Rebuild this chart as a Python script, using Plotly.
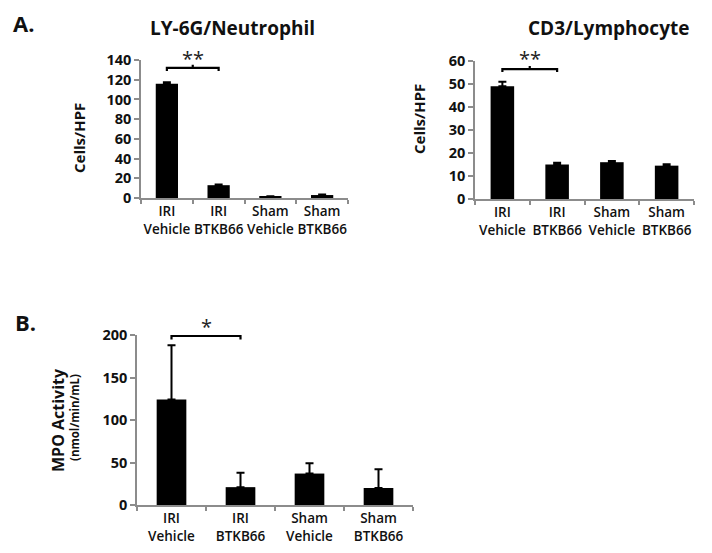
import plotly.graph_objects as go

categories = ["IRI<br>Vehicle", "IRI<br>BTKB66", "Sham<br>Vehicle", "Sham<br>BTKB66"]

neut_values = [116, 13, 1.5, 3]
neut_errors = [1.5, 0.8, 0.3, 0.6]

lymph_values = [49, 15, 16, 14.5]
lymph_errors = [2, 0.8, 0.5, 0.6]

mpo_values = [124, 21, 37, 20]
mpo_errors = [64, 17, 12, 22]

neut_bracket = {"y": 132, "star_y": 142, "label": "**"}
lymph_bracket = {"y": 56.5, "star_y": 61, "label": "**"}
mpo_bracket = {"y": 199, "star_y": 210, "label": "*"}

FONT = "Open Sans"
AXC = "#8c8c8c"
OFF = 8          # page body margin
W, H = 712 - OFF, 553 - OFF


def fx(px):
    return (px - OFF) / W


def fy(py):
    return 1 - (py - OFF) / H


fig = go.Figure()

panels = [
    ("x", "y", neut_values, neut_errors, neut_bracket, [0, 140]),
    ("x2", "y2", lymph_values, lymph_errors, lymph_bracket, [0, 60]),
    ("x3", "y3", mpo_values, mpo_errors, mpo_bracket, [0, 200]),
]

xpos = list(range(len(categories)))

for xa, ya, vals, errs, br, rng in panels:
    fig.add_trace(go.Bar(
        x=xpos, y=vals, xaxis=xa, yaxis=ya, width=0.43,
        marker=dict(color="black", line=dict(width=0)),
        error_y=dict(type="data", symmetric=False, array=errs,
                     arrayminus=[0] * len(errs), color="black",
                     thickness=2, width=4),
        showlegend=False, hoverinfo="skip",
    ))
    bh = (rng[1] - rng[0]) * 0.022
    fig.add_trace(go.Scatter(
        x=[0, 0, 0.5, 0.5, 0.5, 1, 1],
        y=[br["y"] - bh, br["y"], br["y"], br["y"] + bh, br["y"], br["y"], br["y"] - bh],
        mode="lines", line=dict(color="black", width=2.2),
        xaxis=xa, yaxis=ya, showlegend=False, hoverinfo="skip",
        cliponaxis=False,
    ))
    fig.add_annotation(
        x=0.5, y=br["star_y"] / rng[1], xref=xa, yref=ya + " domain",
        text=br["label"], showarrow=False, yanchor="middle",
        font=dict(family=FONT, size=20, color="#222"),
    )


def xaxis(domain, anchor):
    return dict(domain=domain, anchor=anchor, range=[-0.5, 3.5],
                tickvals=xpos, ticktext=categories, ticks="",
                showline=True, linecolor=AXC, linewidth=1.5,
                showgrid=False, zeroline=False, automargin=False,
                tickfont=dict(family=FONT, size=13.5, color="#111", weight=600),
                minor=dict(ticks="outside", tick0=0.5, dtick=1, ticklen=4,
                           tickcolor=AXC, tickwidth=1.5),
                fixedrange=True)


def yaxis(domain, anchor, rng, dt):
    return dict(domain=domain, anchor=anchor, range=rng, dtick=dt,
                ticks="outside", ticklen=5, tickcolor=AXC, tickwidth=1.5,
                showline=True, linecolor=AXC, linewidth=1.5,
                showgrid=False, zeroline=False, automargin=False,
                tickfont=dict(family=FONT, size=14.5, color="#111", weight="bold"),
                fixedrange=True)


fig.update_layout(
    width=W, height=H,
    margin=dict(l=0, r=0, t=0, b=0, autoexpand=False),
    paper_bgcolor="white", plot_bgcolor="white",
    xaxis=xaxis([fx(141), fx(348)], "y"),
    yaxis=yaxis([fy(198), fy(60)], "x", [0, 140], 20),
    xaxis2=xaxis([fx(475), fx(694)], "y2"),
    yaxis2=yaxis([fy(199), fy(61)], "x2", [0, 60], 10),
    xaxis3=xaxis([fx(137), fx(413)], "y3"),
    yaxis3=yaxis([fy(505), fy(335)], "x3", [0, 200], 50),
)


def ann(text, x, y, size, bold=True, angle=0, xanchor="center"):
    fig.add_annotation(
        text=f"<b>{text}</b>" if bold else text,
        x=fx(x), y=fy(y), xref="paper", yref="paper",
        showarrow=False, textangle=angle, xanchor=xanchor, yanchor="middle",
        font=dict(family=FONT, size=size, color="#111"),
    )


ann("A.", 11, 23, 22, xanchor="left")
ann("B.", 13, 322, 22, xanchor="left")
ann("LY-6G/Neutrophil", 232, 28, 19)
ann("CD3/Lymphocyte", 608, 28, 19)
ann("Cells/HPF", 79, 138, 15, angle=-90)
ann("Cells/HPF", 419, 119, 15, angle=-90)
ann("MPO Activity", 58, 420, 16, angle=-90)
ann("(nmol/min/mL)", 74, 418, 11.5, angle=-90)

fig.write_html("out.html")
